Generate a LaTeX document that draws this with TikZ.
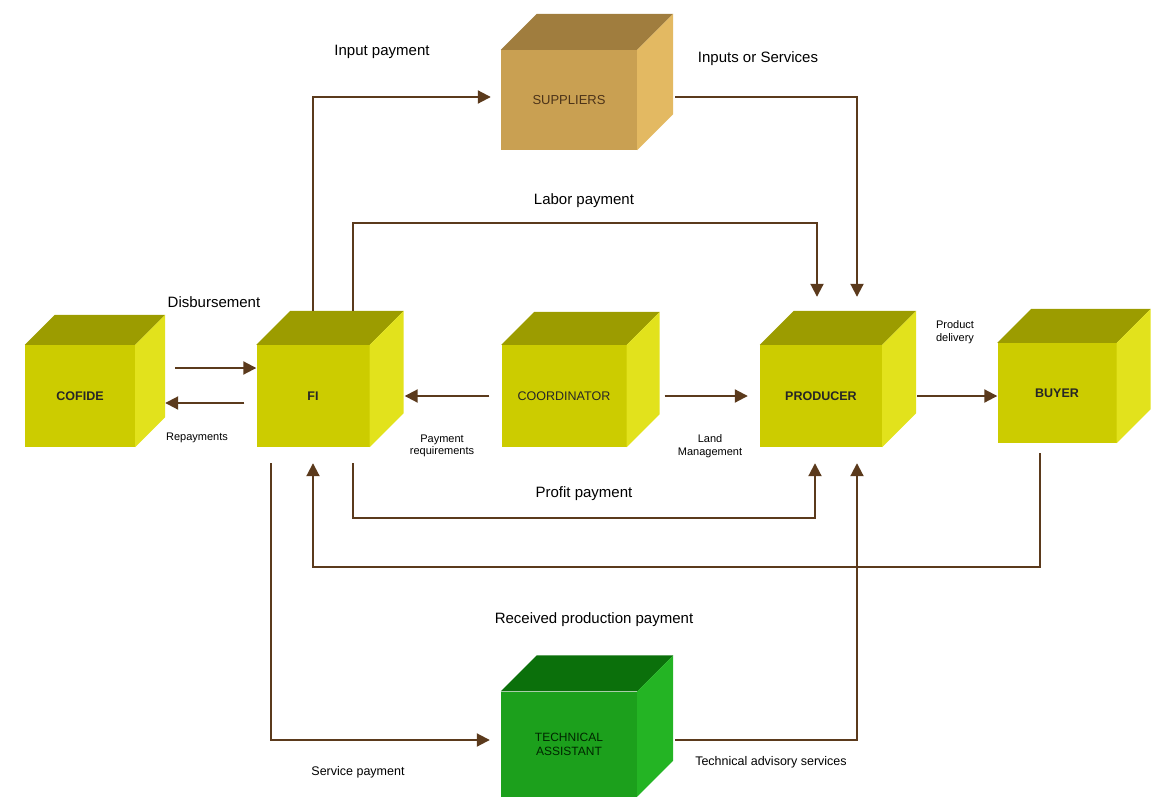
\documentclass[tikz,border=0pt]{standalone}
\usepackage{fontspec}
\setmainfont{Liberation Sans}
\usetikzlibrary{arrows.meta}
\definecolor{yfront}{HTML}{CCCC00}
\definecolor{ytop}{HTML}{9C9C00}
\definecolor{yside}{HTML}{E2E21C}
\definecolor{sfront}{HTML}{C9A052}
\definecolor{stop}{HTML}{A07D3E}
\definecolor{sside}{HTML}{E3B962}
\definecolor{gfront}{HTML}{1CA01C}
\definecolor{gtop}{HTML}{0B700B}
\definecolor{gside}{HTML}{24B424}
\definecolor{flowc}{HTML}{5B3A1C}
\newcommand{\cubefaces}[4]{%
  \fill[#2] (#1.north west) -- ++(#4,-#4) -- ([shift={(#4,-#4)}]#1.north east) -- (#1.north east) -- cycle;
  \fill[#3] (#1.north east) -- ++(#4,-#4) -- ([shift={(#4,-#4)}]#1.south east) -- (#1.south east) -- cycle;}
\begin{document}
\begin{tikzpicture}[x=1pt,y=-1pt,
  cube/.style={fill=yfront,inner sep=0pt,text=black!85,font=\fontsize{12.5}{14}\selectfont\bfseries},
  lbl/.style={font=\fontsize{15}{17}\selectfont},
  slbl/.style={font=\fontsize{11}{12.5}\selectfont,align=center},
  flow/.style={draw=flowc,line width=2pt,-{Triangle[length=13pt,width=13pt]},color=flowc}]
\useasboundingbox (0,0) rectangle (1152,798);
\node[cube,minimum width=110,minimum height=102] (cofide) at (80,396) {COFIDE};
\node[cube,minimum width=113,minimum height=102] (fi) at (313,396) {FI};
\node[cube,fill=sfront,text=brown!40!black,font=\fontsize{13}{15}\selectfont,minimum width=136,minimum height=100] (sup) at (569,100) {SUPPLIERS};
\node[cube,font=\fontsize{12.5}{14}\selectfont,minimum width=125,minimum height=102] (coord) at (564,396) {COORDINATOR};
\node[cube,minimum width=122,minimum height=102] (prod) at (821,396) {PRODUCER};
\node[cube,minimum width=119,minimum height=100] (buyer) at (1057,393) {BUYER};
\node[cube,fill=gfront,text=green!15!black,font=\fontsize{12}{14}\selectfont,align=center,minimum width=136,minimum height=105] (tech) at (569,744) {TECHNICAL\\ASSISTANT};
\cubefaces{cofide}{ytop}{yside}{30}
\cubefaces{fi}{ytop}{yside}{34}
\cubefaces{sup}{stop}{sside}{36}
\cubefaces{coord}{ytop}{yside}{33}
\cubefaces{prod}{ytop}{yside}{34}
\cubefaces{buyer}{ytop}{yside}{34}
\cubefaces{tech}{gtop}{gside}{36}
\draw[flow] ([yshift=34pt]fi.north) |- ([xshift=-10pt,yshift=3pt]sup.west);
\draw[flow] ([xshift=38pt,yshift=3pt]sup.east) -| ([xshift=36pt,yshift=48pt]prod.north);
\draw[flow] ([xshift=40pt,yshift=34pt]fi.north) -- ++(0,-88) -| ([xshift=-4pt,yshift=48pt]prod.north);
\draw[flow] ([xshift=40pt,yshift=28pt]cofide.east) -- ([yshift=28pt]fi.west);
\draw[flow] ([xshift=-12pt,yshift=-7pt]fi.west) -- ([xshift=30pt,yshift=-7pt]cofide.east);
\draw[flow] ([xshift=-12pt]coord.west) -- ([xshift=35pt]fi.east);
\draw[flow] ([xshift=38pt]coord.east) -- ([xshift=-12pt]prod.west);
\draw[flow] ([xshift=35pt]prod.east) -- (prod.east -| buyer.west);
\draw[flow] ([xshift=40pt,yshift=-16pt]fi.south) -- ++(0,55) -| ([xshift=-6pt,yshift=-16pt]prod.south);
\draw[flow] ([xshift=-17pt,yshift=-10pt]buyer.south) -- ++(0,114) -| ([yshift=-16pt]fi.south);
\draw[flow] ([xshift=-42pt,yshift=-16pt]fi.south) |- ([xshift=-11pt,yshift=4pt]tech.west);
\draw[flow] ([xshift=38pt,yshift=4pt]tech.east) -| ([xshift=36pt,yshift=-16pt]prod.south);
\node[lbl] (inpay) at (382,52) {Input payment};
\node[lbl] (insrv) at (758,59) {Inputs or Services};
\node[lbl] (labor) at (584,201) {Labor payment};
\node[lbl] (disb) at (214,302) {Disbursement};
\node[slbl] (repay) at (197,438) {Repayments};
\node[slbl] (payreq) at (442,446) {Payment\\requirements};
\node[slbl] (land) at (710,446) {Land\\Management};
\node[slbl] (deliv) at (955,332) {Product\\delivery};
\node[lbl] (profit) at (584,494) {Profit payment};
\node[lbl] (recv) at (594,620) {Received production payment};
\node[slbl,font=\fontsize{12.5}{14}\selectfont] (srvpay) at (358,772) {Service payment};
\node[slbl,font=\fontsize{12.5}{14}\selectfont] (advis) at (771,762) {Technical advisory services};
\end{tikzpicture}
\end{document}
